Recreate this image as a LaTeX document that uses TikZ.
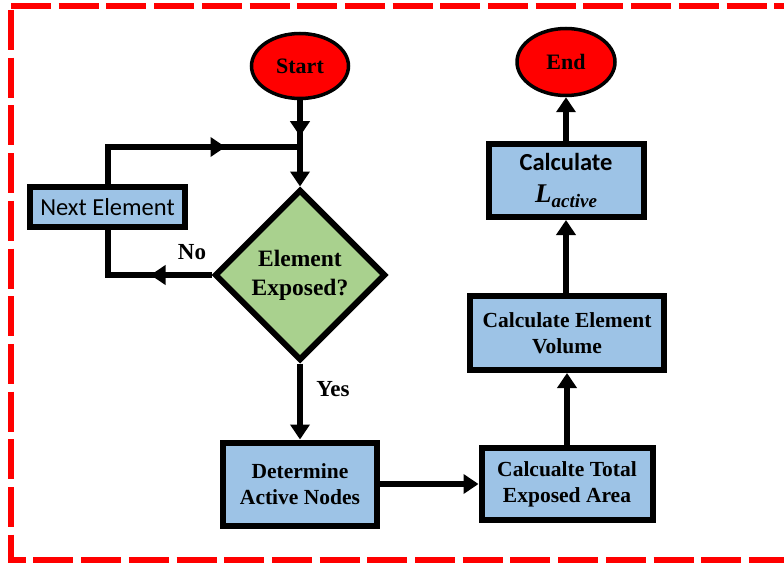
\documentclass[tikz,border=0pt]{standalone}
\usepackage{fontspec}
\setmainfont{Liberation Serif}
\newfontfamily\sansf{Carlito}
\usetikzlibrary{shapes.geometric,arrows.meta,decorations.markings}
\definecolor{boxblue}{HTML}{9DC3E6}
\definecolor{dgreen}{HTML}{A9D18E}
\begin{document}
\begin{tikzpicture}[x=1pt,y=-1pt,
  box/.style={draw=black,line width=6pt,fill=boxblue,align=center,inner sep=0pt,font=\fontsize{21.5}{26}\selectfont\bfseries},
  term/.style={ellipse,draw=black,line width=3.5pt,fill=red,inner sep=0pt,font=\fontsize{22}{25}\selectfont\bfseries},
  lbl/.style={font=\fontsize{23}{26}\selectfont\bfseries,inner sep=0pt},
  ln/.style={line width=6pt},
  arr/.style={ln,-{Triangle[length=15pt,width=19pt]}},
  midarr/.style={ln,postaction={decorate},decoration={markings,mark=at position #1 with {\arrow{Triangle[length=15pt,width=19pt]}}}}
]
\useasboundingbox (0,0) rectangle (784,567);
\begin{scope}
\clip (0,0) rectangle (784,567);
\draw[red,line width=5.5pt,dash pattern=on 40pt off 7.7pt] (11,6) -- (800,6);
\draw[red,line width=5.5pt,dash pattern=on 40pt off 7.7pt,dash phase=-4pt] (11,6) -- (11,560) -- (800,560);
\end{scope}

\node[term,minimum width=97pt,minimum height=65pt] (start) at (300,66) {Start};
\node[term,minimum width=98pt,minimum height=67pt] (end) at (566,62) {End};
\node[diamond,draw=black,line width=6pt,fill=dgreen,minimum width=171pt,minimum height=171pt,inner sep=0pt,align=center,font=\fontsize{23.5}{29}\selectfont\bfseries] (dia) at (300,275) {Element\\Exposed?};
\node[box,minimum width=155pt,minimum height=40pt,font=\sansf\fontsize{24.5}{28}\selectfont] (next) at (107.5,207) {Next Element};
\node[box,minimum width=154pt,minimum height=83pt] (det) at (300,484) {Determine\\Active Nodes};
\node[box,minimum width=171pt,minimum height=72pt] (area) at (567,484) {Calcualte Total\\Exposed Area};
\node[box,minimum width=194pt,minimum height=74pt] (vol) at (567,333) {Calculate Element\\Volume};
\node[box,minimum width=155pt,minimum height=73pt,font=\sansf\bfseries\fontsize{24.5}{32}\selectfont] (calc) at (566,180.5) {Calculate\\{\rmfamily\bfseries\itshape\fontsize{27}{32}\selectfont L\raisebox{-5pt}{\fontsize{19}{19}\selectfont active}}};
\node[lbl] (no) at (192,252) {No};
\node[lbl] (yes) at (333,389) {Yes};

\coordinate (j) at (300,147);
\draw[midarr=36pt] (start.south) -- (j);
\draw[arr] (j) -- (dia.north);
\draw[midarr=155pt] (next.north) |- (j);
\draw[midarr=61pt] (dia.west) -| (next.south);
\draw[arr] (dia.south) -- (det.north);
\draw[arr] (det.east) -- (area.west);
\draw[arr] (area.north) -- (vol.south);
\draw[arr] (vol.north -| calc.south) -- (calc.south);
\draw[arr] (calc.north) -- (end.south);
\end{tikzpicture}
\end{document}
